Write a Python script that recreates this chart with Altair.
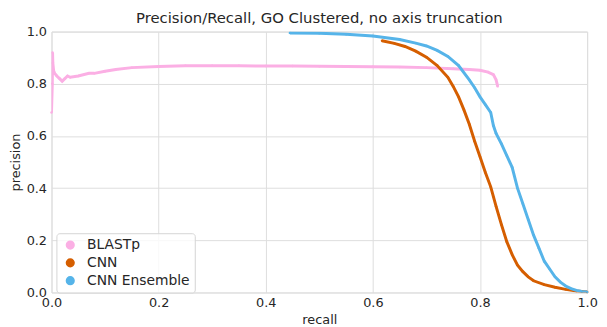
import altair as alt
import pandas as pd

# ---- data ----
blast_recall = [0.0, 0.0015, 0.002, 0.0025, 0.004, 0.006, 0.01, 0.015, 0.02, 0.025, 0.03,
                0.035, 0.05, 0.07, 0.08, 0.1, 0.12, 0.15, 0.2, 0.25, 0.3, 0.35, 0.4,
                0.45, 0.5, 0.55, 0.6, 0.65, 0.7, 0.75, 0.78, 0.8, 0.815, 0.825, 0.83, 0.833]
blast_precision = [0.69, 0.80, 0.92, 0.88, 0.85, 0.84, 0.83, 0.82, 0.81, 0.82, 0.83,
                   0.825, 0.83, 0.84, 0.84, 0.848, 0.855, 0.862, 0.866, 0.869, 0.869, 0.869, 0.868,
                   0.868, 0.867, 0.866, 0.865, 0.864, 0.862, 0.858, 0.855, 0.852, 0.845, 0.835, 0.815, 0.79]

cnn_recall = [0.617, 0.64, 0.66, 0.68, 0.70, 0.72, 0.74, 0.75, 0.76, 0.77, 0.78, 0.79,
              0.80, 0.81, 0.82, 0.83, 0.84, 0.85, 0.86, 0.87, 0.88, 0.89, 0.90, 0.92,
              0.94, 0.96, 0.98, 1.0]
cnn_precision = [0.965, 0.955, 0.943, 0.925, 0.902, 0.87, 0.825, 0.79, 0.75, 0.70, 0.645, 0.58,
                 0.52, 0.46, 0.405, 0.33, 0.26, 0.195, 0.145, 0.105, 0.08, 0.06, 0.045, 0.03,
                 0.02, 0.012, 0.006, 0.002]

ens_recall = [0.445, 0.5, 0.55, 0.6, 0.65, 0.68, 0.70, 0.72, 0.74, 0.76, 0.78, 0.79, 0.80,
              0.81, 0.82, 0.825, 0.83, 0.84, 0.85, 0.86, 0.87, 0.88, 0.89, 0.90, 0.91,
              0.92, 0.93, 0.94, 0.95, 0.96, 0.97, 0.98, 0.99, 1.0]
ens_precision = [0.995, 0.994, 0.99, 0.983, 0.97, 0.956, 0.945, 0.928, 0.905, 0.87, 0.815, 0.785, 0.75,
                 0.72, 0.69, 0.64, 0.61, 0.57, 0.525, 0.48, 0.40, 0.34, 0.28, 0.22, 0.17,
                 0.12, 0.09, 0.06, 0.04, 0.025, 0.015, 0.008, 0.004, 0.002]

series_names = ["BLASTp", "CNN", "CNN Ensemble"]
series_colors = ["#fbafe4", "#d55e00", "#56b4e9"]
x_ticks = [0.0, 0.2, 0.4, 0.6, 0.8, 1.0]
y_ticks = [0.0, 0.2, 0.4, 0.6, 0.8, 1.0]

rows = []
for name, rs, ps in zip(series_names,
                        [blast_recall, cnn_recall, ens_recall],
                        [blast_precision, cnn_precision, ens_precision]):
    for i, (r, p) in enumerate(zip(rs, ps)):
        rows.append({"series": name, "recall": r, "precision": p, "idx": i})
df = pd.DataFrame(rows)

FONT = "DejaVu Sans"
TXT = "#262626"
GRID = "#dedede"

x_enc = alt.X("recall:Q", scale=alt.Scale(domain=[0, 1], nice=False, zero=False),
              axis=alt.Axis(values=x_ticks, format=".1f", title="recall"))
y_enc = alt.Y("precision:Q", scale=alt.Scale(domain=[0, 1], nice=False, zero=False),
              axis=alt.Axis(values=y_ticks, format=".1f", title="precision"))
color_scale = alt.Scale(domain=series_names, range=series_colors)

legend_spec = alt.Legend(title=None, orient="none", legendX=5, legendY=204,
                         symbolType="circle", symbolSize=60,
                         labelFontSize=14, labelFont=FONT, labelColor=TXT,
                         labelOffset=10, rowPadding=4, padding=5,
                         symbolOffset=2,
                         fillColor="rgba(255,255,255,0.8)",
                         strokeColor="#d5d5d5", cornerRadius=3)

legend_layer = alt.Chart(df).mark_circle(size=6, opacity=1).encode(
    x=x_enc, y=y_enc,
    color=alt.Color("series:N", scale=color_scale, legend=legend_spec),
)

layers = [legend_layer]
for name in series_names:
    sub = df[df["series"] == name]
    layers.append(
        alt.Chart(sub).mark_line(strokeWidth=3, clip=True).encode(
            x=x_enc, y=y_enc,
            color=alt.Color("series:N", scale=color_scale, legend=legend_spec),
            order="idx:Q",
        )
    )

chart = alt.layer(*layers).properties(
    width=542, height=264,
    title=alt.TitleParams("Precision/Recall, GO Clustered, no axis truncation",
                          fontSize=15, font=FONT, fontWeight="normal", color=TXT,
                          anchor="middle", frame="group", offset=0),
    autosize=alt.AutoSizeParams(type="none"),
    padding={"left": 44, "top": 22, "right": 12, "bottom": 33},
).configure_view(stroke=GRID, strokeWidth=1).configure_axis(
    grid=True, gridColor=GRID, gridWidth=1, domain=False, ticks=False,
    labelFont=FONT, labelFontSize=13, labelColor=TXT,
    titleFont=FONT, titleFontSize=13, titleColor=TXT, titleFontWeight="normal",
).configure_axisX(labelPadding=4, titlePadding=4, labelFlush=False
).configure_axisY(labelPadding=5, titlePadding=4)

chart.save("out.html", embed_options={"renderer": "svg", "actions": False})
